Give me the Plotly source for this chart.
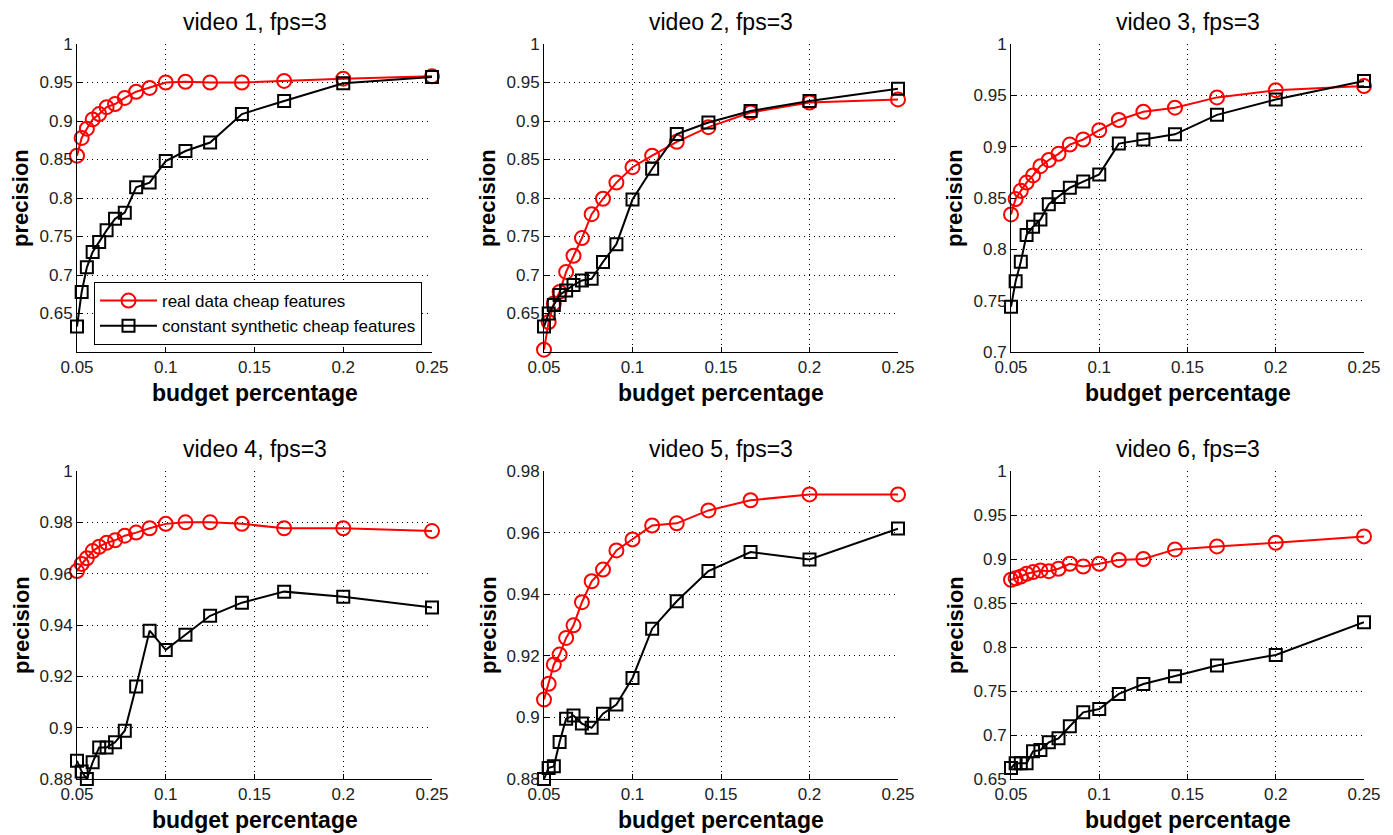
import plotly.graph_objects as go

budget = [0.05, 0.05263, 0.05556, 0.05882, 0.0625, 0.06667, 0.07143, 0.07692,
          0.08333, 0.09091, 0.1, 0.1111, 0.125, 0.1429, 0.1667, 0.2, 0.25]

titles = ["video 1, fps=3", "video 2, fps=3", "video 3, fps=3",
          "video 4, fps=3", "video 5, fps=3", "video 6, fps=3"]

real_v1 = [0.855, 0.878, 0.890, 0.902, 0.909, 0.918, 0.922, 0.930, 0.938, 0.943,
           0.950, 0.951, 0.950, 0.950, 0.952, 0.955, 0.958]
synth_v1 = [0.633, 0.678, 0.710, 0.730, 0.743, 0.758, 0.773, 0.781, 0.814, 0.820,
            0.848, 0.861, 0.872, 0.909, 0.926, 0.949, 0.957]

real_v2 = [0.603, 0.639, 0.663, 0.678, 0.704, 0.725, 0.748, 0.779, 0.799, 0.820,
           0.840, 0.855, 0.873, 0.892, 0.911, 0.924, 0.928]
synth_v2 = [0.633, 0.650, 0.661, 0.674, 0.680, 0.687, 0.693, 0.695, 0.717, 0.740,
            0.798, 0.838, 0.883, 0.898, 0.913, 0.926, 0.942]

real_v3 = [0.834, 0.849, 0.857, 0.865, 0.872, 0.881, 0.887, 0.893, 0.902, 0.907,
           0.916, 0.926, 0.934, 0.938, 0.948, 0.955, 0.959]
synth_v3 = [0.744, 0.769, 0.788, 0.814, 0.822, 0.829, 0.844, 0.851, 0.860, 0.866,
            0.873, 0.903, 0.907, 0.912, 0.931, 0.946, 0.964]

real_v4 = [0.961, 0.9638, 0.966, 0.9688, 0.9705, 0.972, 0.973, 0.9748, 0.976, 0.9777,
           0.9794, 0.980, 0.980, 0.9794, 0.9777, 0.9777, 0.9766]
synth_v4 = [0.8871, 0.8829, 0.8800, 0.8865, 0.8923, 0.8923, 0.8943, 0.8988, 0.916, 0.9378,
            0.9303, 0.9362, 0.9436, 0.9487, 0.953, 0.951, 0.9468]

real_v5 = [0.9058, 0.9109, 0.9172, 0.9204, 0.9258, 0.9299, 0.9374, 0.9442, 0.948, 0.9542,
           0.9578, 0.9623, 0.963, 0.9672, 0.9705, 0.9724, 0.9724]
synth_v5 = [0.880, 0.8836, 0.8841, 0.892, 0.8996, 0.9006, 0.898, 0.8966, 0.9012, 0.9042,
            0.9128, 0.9288, 0.9377, 0.9475, 0.9537, 0.9513, 0.9613]

real_v6 = [0.8764, 0.878, 0.880, 0.8832, 0.8851, 0.887, 0.8862, 0.8889, 0.8946, 0.8915,
           0.8946, 0.899, 0.900, 0.9109, 0.9143, 0.9185, 0.9257]
synth_v6 = [0.6625, 0.6678, 0.6678, 0.6678, 0.6815, 0.683, 0.6917, 0.6962, 0.710, 0.7258,
            0.7296, 0.7467, 0.758, 0.7668, 0.7789, 0.791, 0.8282]

real_series = [real_v1, real_v2, real_v3, real_v4, real_v5, real_v6]
synth_series = [synth_v1, synth_v2, synth_v3, synth_v4, synth_v5, synth_v6]

x_ticks = [0.05, 0.1, 0.15, 0.2, 0.25]
x_ticktext = ["0.05", "0.1", "0.15", "0.2", "0.25"]

y_ranges = [[0.6, 1.0], [0.6, 1.0], [0.7, 1.0], [0.88, 1.0], [0.88, 0.98], [0.65, 1.0]]
y_ticks = [
    [0.65, 0.7, 0.75, 0.8, 0.85, 0.9, 0.95, 1.0],
    [0.65, 0.7, 0.75, 0.8, 0.85, 0.9, 0.95, 1.0],
    [0.7, 0.75, 0.8, 0.85, 0.9, 0.95, 1.0],
    [0.88, 0.9, 0.92, 0.94, 0.96, 0.98, 1.0],
    [0.88, 0.9, 0.92, 0.94, 0.96, 0.98],
    [0.65, 0.7, 0.75, 0.8, 0.85, 0.9, 0.95, 1.0],
]

legend_names = ["real data cheap features", "constant synthetic cheap features"]

# page body has an 8px margin; figure coordinates are page coordinates minus OFF
OFF = 8
W, H = 1393 - 2 * OFF, 835 - OFF
col_px = [(77, 432), (544, 898), (1011, 1364)]
row_px = [(44, 352), (471, 779)]

def px_x(p):
    return (p - OFF) / W

def px_y(p):
    return 1 - (p - OFF) / H

FONT = "Liberation Sans, Arial, Helvetica, sans-serif"

fig = go.Figure()
annotations = []

def fmt(v):
    return ("%.2f" % v).rstrip("0").rstrip(".")

for i in range(6):
    r, c = divmod(i, 3)
    x0, x1 = col_px[c]
    y0, y1 = row_px[r]
    xa = "xaxis" if i == 0 else "xaxis%d" % (i + 1)
    ya = "yaxis" if i == 0 else "yaxis%d" % (i + 1)
    xref = "x" if i == 0 else "x%d" % (i + 1)
    yref = "y" if i == 0 else "y%d" % (i + 1)

    fig.add_trace(go.Scatter(
        x=budget, y=real_series[i], xaxis=xref, yaxis=yref,
        mode="lines+markers", name=legend_names[0], showlegend=(i == 0),
        line=dict(color="#ff0000", width=2),
        marker=dict(symbol="circle-open", size=14, color="#ff0000",
                    line=dict(width=2, color="#ff0000")),
        cliponaxis=False))
    fig.add_trace(go.Scatter(
        x=budget, y=synth_series[i], xaxis=xref, yaxis=yref,
        mode="lines+markers", name=legend_names[1], showlegend=(i == 0),
        line=dict(color="#000000", width=2),
        marker=dict(symbol="square-open", size=12, color="#000000",
                    line=dict(width=2, color="#000000")),
        cliponaxis=False))

    common = dict(showline=True, linecolor="black", linewidth=1,
                  ticks="inside", ticklen=5, tickcolor="black",
                  showgrid=True, gridcolor="black", gridwidth=1,
                  griddash="1px,4px", zeroline=False, automargin=False,
                  tickfont=dict(family=FONT, size=17, color="#222"))
    fig.layout[xa] = dict(domain=[px_x(x0), px_x(x1)], range=[0.05, 0.25],
                          tickvals=x_ticks, ticktext=x_ticktext,
                          anchor=yref, **common)
    fig.layout[ya] = dict(domain=[px_y(y1), px_y(y0)], range=y_ranges[i],
                          tickvals=y_ticks[i], ticktext=[fmt(v) for v in y_ticks[i]],
                          anchor=xref, **common)

    cx = px_x((x0 + x1) / 2)
    annotations.append(dict(text=titles[i], x=cx, y=px_y(y0 - 22),
                            xref="paper", yref="paper", showarrow=False,
                            xanchor="center", yanchor="middle",
                            font=dict(family=FONT, size=23, color="black")))
    annotations.append(dict(text="<b>budget percentage</b>", x=cx, y=px_y(y1 + 41),
                            xref="paper", yref="paper", showarrow=False,
                            xanchor="center", yanchor="middle",
                            font=dict(family=FONT, size=23, color="black")))
    annotations.append(dict(text="<b>precision</b>", x=px_x(x0 - 56),
                            y=px_y((y0 + y1) / 2),
                            xref="paper", yref="paper", showarrow=False, textangle=-90,
                            xanchor="center", yanchor="middle",
                            font=dict(family=FONT, size=22, color="black")))

fig.update_layout(
    width=W, height=H, autosize=False,
    margin=dict(l=0, r=0, t=0, b=0, autoexpand=False),
    paper_bgcolor="white", plot_bgcolor="white",
    annotations=annotations,
    showlegend=True,
    legend=dict(x=px_x(94), y=px_y(282), xanchor="left", yanchor="top",
                bgcolor="white", bordercolor="black", borderwidth=1,
                font=dict(family=FONT, size=17, color="black"),
                itemwidth=57, tracegroupgap=0),
)

fig.write_html("out.html",
               post_script="document.body.style.overflow='hidden';")
